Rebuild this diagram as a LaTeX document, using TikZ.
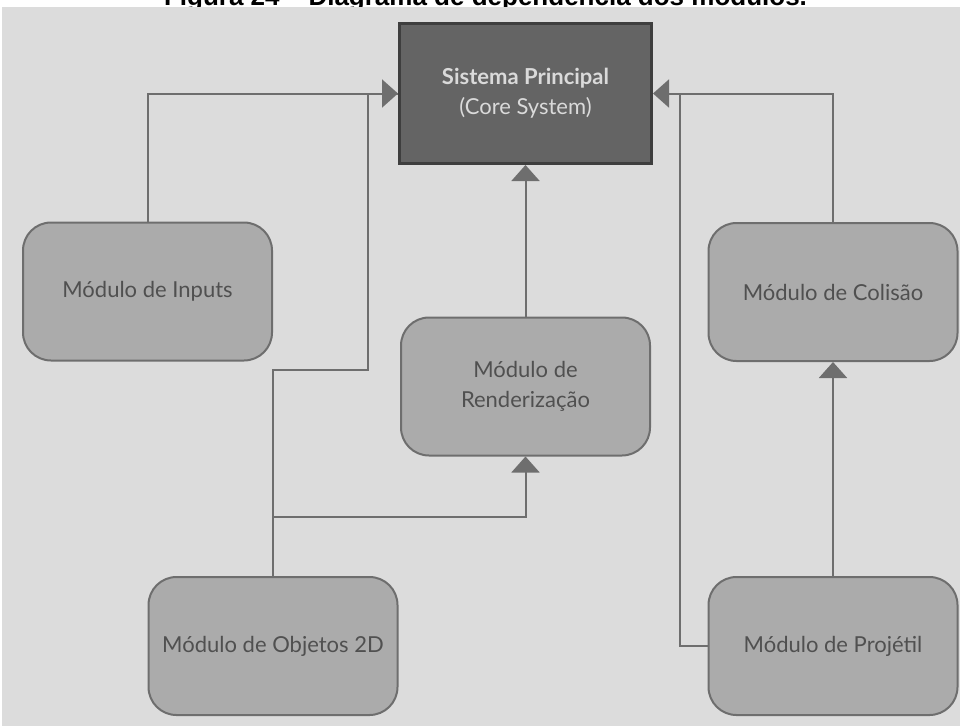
\documentclass[tikz,border=0pt]{standalone}
\usepackage{fontspec}
\setmainfont{Lato}
\newfontfamily\titlefont{Liberation Sans}
\usetikzlibrary{arrows.meta}

\definecolor{canvas}{HTML}{DCDCDC}
\definecolor{modfill}{HTML}{ABABAB}
\definecolor{modline}{HTML}{6E6E6E}
\definecolor{modtext}{HTML}{505050}
\definecolor{corefill}{HTML}{646464}
\definecolor{coreline}{HTML}{3E3E3E}
\definecolor{coretext}{HTML}{DADADA}

\tikzset{
  module/.style={draw=modline, fill=modfill, line width=2pt,
    rounded corners=28pt, minimum width=249pt, minimum height=138pt,
    inner sep=0pt, align=center, text=modtext,
    font=\fontsize{22}{30}\selectfont},
  corebox/.style={draw=coreline, fill=corefill, line width=3pt,
    minimum width=252pt, minimum height=140pt, inner sep=0pt,
    align=center, text=coretext, font=\fontsize{22}{30}\selectfont},
  link/.style={draw=modline, line width=2pt},
  dep/.style={link, -{Triangle[width=28pt,length=16pt]}}
}

\begin{document}
\begin{tikzpicture}[x=1pt,y=-1pt]
  \useasboundingbox (0,0) rectangle (963,726);

  % caption, cut by the top edge of the page
  \node[anchor=base, inner sep=0pt, font=\titlefont\bfseries\fontsize{26}{30}\selectfont]
    (caption) at (485.5,5) {Figura 24 – Diagrama de dependência dos módulos.};

  % canvas
  \fill[canvas] (2,7) rectangle (960,726);

  % modules
  \node[corebox] (core) at (525.5,93.5)
    {\textbf{Sistema Principal}\\(Core System)};
  \node[module] (inputs) at (147.5,291.5) {Módulo de Inputs};
  \node[module] (colis) at (833,292) {Módulo de Colisão};
  \node[module] (render) at (525.5,386.5) {Módulo de\\Renderização};
  \node[module] (obj) at (273,646) {Módulo de Objetos 2D};
  \node[module] (proj) at (833,646) {Módulo de Projétil};

  % routing points
  \coordinate (objbend) at (368,370);
  \coordinate (objsplit) at (273,517);
  \coordinate (projup) at (680,93.5);

  % dependencies
  \draw[dep] (inputs.north) |- (core.west);
  \draw[link] (obj.north) |- (objbend) |- (core.west);
  \draw[dep] (objsplit) -| (render.south);
  \draw[dep] (render.north) -- (core.south);
  \draw[dep] (colis.north) |- (core.east);
  \draw[link] (proj.west) -| (projup);
  \draw[dep] (proj.north) -- (colis.south);
\end{tikzpicture}
\end{document}
